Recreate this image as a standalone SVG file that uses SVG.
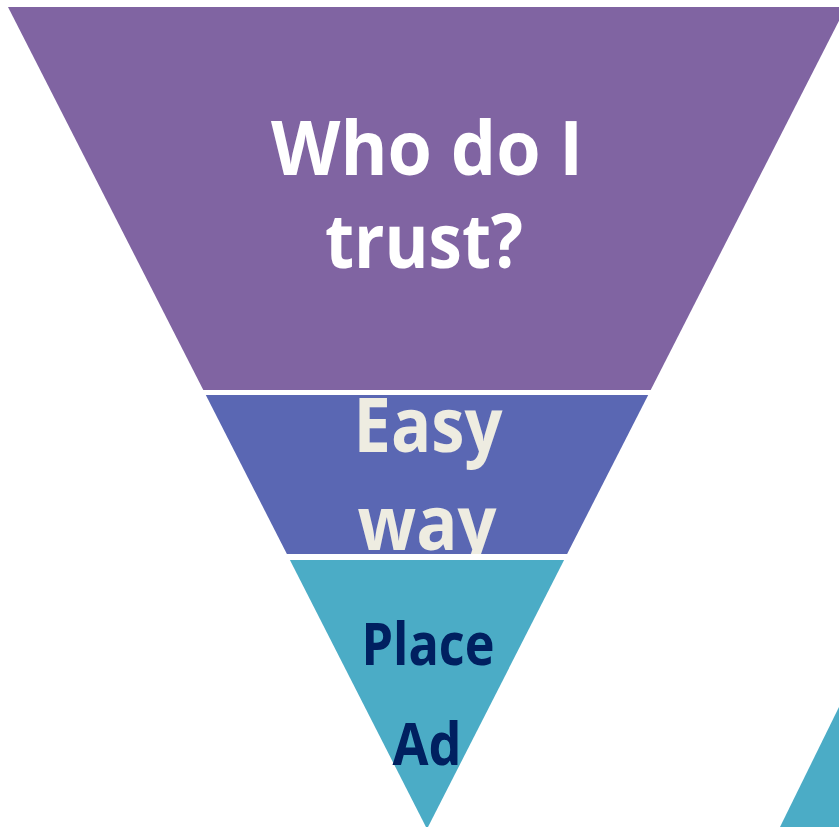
<svg xmlns="http://www.w3.org/2000/svg" width="839" height="827" viewBox="0 0 839 827">
  <style>
    .lbl { font-family: "Open Sans", "Liberation Sans", sans-serif; font-weight: bold; text-anchor: middle; }
  </style>
  <defs>
    <clipPath id="clipBlue">
      <polygon points="205.8,395 648.2,395 567.1,554 286.9,554"/>
    </clipPath>
  </defs>
  <rect width="839" height="827" fill="#FFFFFF"/>
  <g id="node-trust">
    <polygon points="8,7 846,7 650.7,390 203.3,390" fill="#8064A2"/>
    <text class="lbl" x="427" y="175" font-size="76" fill="#FFFFFF" textLength="312" lengthAdjust="spacingAndGlyphs">Who do I</text>
    <text class="lbl" x="424" y="268" font-size="76" fill="#FFFFFF" textLength="198" lengthAdjust="spacingAndGlyphs">trust?</text>
  </g>
  <g id="node-easy">
    <polygon points="205.8,395 648.2,395 567.1,554 286.9,554" fill="#5A67B3"/>
    <g clip-path="url(#clipBlue)">
      <text class="lbl" x="428" y="452" font-size="76" fill="#EEECE1" textLength="149" lengthAdjust="spacingAndGlyphs">Easy</text>
      <text class="lbl" x="427" y="550" font-size="76" fill="#EEECE1" textLength="139" lengthAdjust="spacingAndGlyphs">way</text>
    </g>
  </g>
  <g id="node-ad">
    <polygon points="289.9,560 564.1,560 427,829" fill="#4BACC6"/>
    <text class="lbl" x="428" y="665" font-size="59" fill="#002060" textLength="133" lengthAdjust="spacingAndGlyphs">Place</text>
    <text class="lbl" x="427" y="765" font-size="59" fill="#002060" textLength="69" lengthAdjust="spacingAndGlyphs">Ad</text>
  </g>
  <g id="node-partial">
    <polygon points="780,827 840,705 840,827" fill="#4BACC6"/>
  </g>
  <g id="connectors"></g>
</svg>
